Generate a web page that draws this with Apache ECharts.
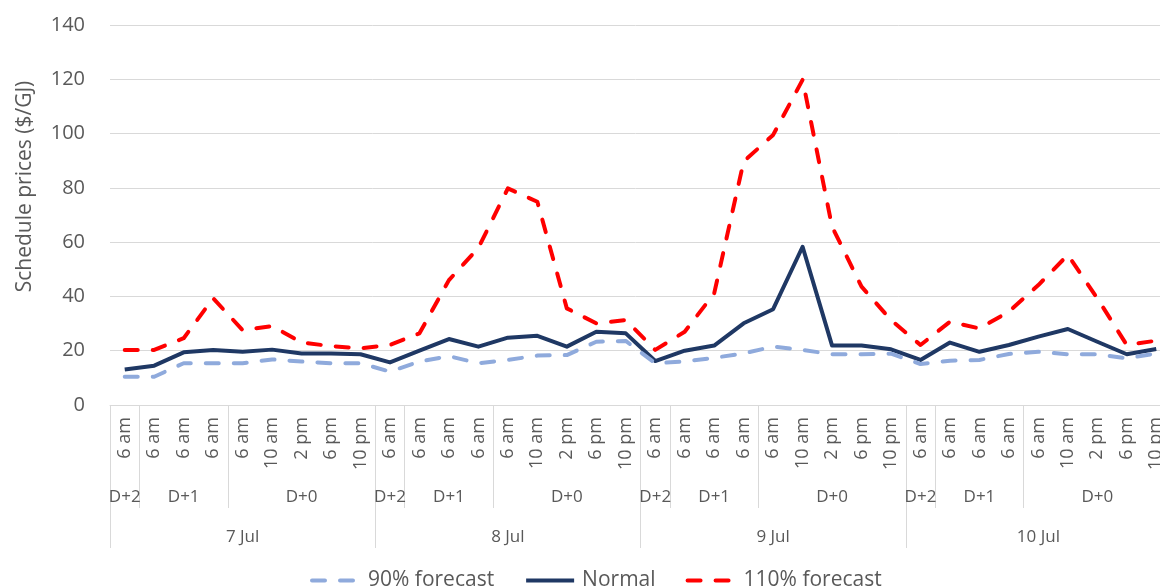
<!DOCTYPE html>
<html>
<head>
<meta charset="utf-8">
<script src="https://cdn.jsdelivr.net/npm/echarts@6/dist/echarts.min.js"></script>
<style>
  html, body { margin: 0; padding: 0; background: #ffffff; overflow: hidden; }
  #chart { width: 1160px; height: 588px; }
</style>
</head>
<body>
<div id="chart"></div>
<script>
// Gas schedule prices by publication time, for four gas days
const dates = ['7 Jul', '8 Jul', '9 Jul', '10 Jul'];
const horizonNames = ['D+2', 'D+1', 'D+0'];
const horizonSizes = [1, 3, 5];
const timeLabels = ['6 am', '6 am', '6 am', '6 am', '6 am', '10 am', '2 pm', '6 pm', '10 pm'];

const forecast90 = [
  10.4, 10.4, 15.4, 15.4, 15.4, 16.8, 16.0, 15.4, 15.4,
  12.3, 16.0, 18.0, 15.4, 16.6, 18.2, 18.4, 23.3, 23.6,
  15.4, 16.0, 17.4, 19.0, 21.5, 20.3, 18.7, 18.7, 18.9,
  15.1, 16.3, 16.6, 18.8, 19.6, 18.7, 18.7, 17.2, 19.0
];
const normal = [
  13.1, 14.5, 19.4, 20.3, 19.6, 20.4, 19.0, 19.0, 18.7,
  15.7, 20.0, 24.3, 21.5, 24.8, 25.5, 21.5, 27.0, 26.4,
  16.2, 20.0, 21.9, 30.1, 35.3, 58.3, 21.9, 21.9, 20.5,
  16.6, 23.0, 19.6, 22.1, 25.2, 28.0, 23.3, 18.7, 20.6
];
const forecast110 = [
  20.3, 20.3, 24.6, 39.3, 27.6, 29.1, 23.0, 21.7, 20.9,
  22.1, 26.4, 46.0, 57.9, 79.8, 74.9, 35.6, 30.1, 31.3,
  20.3, 27.0, 41.1, 89.7, 99.5, 119.8, 65.7, 43.6, 31.3,
  22.1, 30.7, 28.2, 34.4, 44.2, 55.3, 39.3, 22.1, 23.7
];

// Build the three levels of the category axis
const perDay = timeLabels.length;
const timeCats = [];
const horizonCats = [];
const dateCats = [];
const groupStarts = new Set();
dates.forEach(function (d) {
  timeLabels.forEach(function (t) { timeCats.push(t); });
  let start = 0;
  horizonNames.forEach(function (name, g) {
    groupStarts.add(start);
    for (let k = 0; k < horizonSizes[g]; k++) {
      horizonCats.push(k === Math.floor(horizonSizes[g] / 2) ? name : '');
    }
    start += horizonSizes[g];
  });
  for (let k = 0; k < perDay; k++) {
    dateCats.push(k === Math.floor(perDay / 2) ? d : '');
  }
});

const FONT = 'Open Sans';
const TEXT = '#595959';
const GRID = '#d9d9d9';

const chart = echarts.init(document.getElementById('chart'), null, { renderer: 'canvas' });

chart.setOption({
  animation: false,
  textStyle: { fontFamily: FONT },
  // plot area runs slightly past the right edge of the canvas
  grid: { left: 110, width: 1061, top: 25, bottom: 183, containLabel: false, outerBoundsMode: 'none' },
  legend: {
    data: ['90% forecast', 'Normal', '110% forecast'],
    left: 305,
    top: 565,
    itemWidth: 48,
    itemHeight: 14,
    itemGap: 30,
    itemStyle: { opacity: 0 },
    lineStyle: { width: 4 },
    textStyle: { fontFamily: FONT, fontSize: 21, color: TEXT, padding: [0, 0, 0, 3] }
  },
  xAxis: [
    {
      type: 'category',
      data: timeCats,
      boundaryGap: true,
      axisLine: { show: true, lineStyle: { color: GRID, width: 1 } },
      axisTick: {
        show: true,
        length: 103,
        interval: function (idx) { return groupStarts.has(idx % perDay); },
        lineStyle: { color: GRID, width: 1 }
      },
      axisLabel: { interval: 0, rotate: 90, margin: 12, fontSize: 18, color: TEXT, fontFamily: FONT }
    },
    {
      type: 'category',
      data: horizonCats,
      position: 'bottom',
      boundaryGap: true,
      axisLine: { show: false },
      axisTick: { show: false },
      axisLabel: { interval: 0, margin: 84, fontSize: 17, color: TEXT, fontFamily: FONT }
    },
    {
      type: 'category',
      data: dateCats,
      position: 'bottom',
      boundaryGap: true,
      axisLine: { show: false },
      axisTick: {
        show: true,
        length: 143,
        interval: function (idx) { return idx % perDay === 0; },
        lineStyle: { color: GRID, width: 1 }
      },
      axisLabel: { interval: 0, margin: 124, fontSize: 17, color: TEXT, fontFamily: FONT }
    }
  ],
  yAxis: {
    type: 'value',
    min: 0,
    max: 140,
    interval: 20,
    name: 'Schedule prices ($/GJ)',
    nameLocation: 'middle',
    nameGap: 74,
    nameTextStyle: { fontSize: 21, color: TEXT, fontFamily: FONT, padding: [0, 0, 0, 57] },
    axisLine: { show: false },
    axisTick: { show: false },
    axisLabel: { margin: 25, fontSize: 20, color: TEXT, fontFamily: FONT },
    splitLine: { lineStyle: { color: GRID, width: 1 } }
  },
  series: [
    {
      name: '90% forecast',
      type: 'line',
      data: forecast90,
      xAxisIndex: 0,
      symbol: 'none',
      z: 3,
      lineStyle: { color: '#8faadc', width: 4, type: [13, 15], cap: 'round', join: 'round' },
      itemStyle: { color: '#8faadc' }
    },
    {
      name: 'Normal',
      type: 'line',
      data: normal,
      xAxisIndex: 0,
      symbol: 'none',
      z: 2,
      lineStyle: { color: '#1f3864', width: 4, join: 'round' },
      itemStyle: { color: '#1f3864' }
    },
    {
      name: '110% forecast',
      type: 'line',
      data: forecast110,
      xAxisIndex: 0,
      symbol: 'none',
      z: 4,
      lineStyle: { color: '#ff0000', width: 4, type: [13, 15], cap: 'round', join: 'round' },
      itemStyle: { color: '#ff0000' }
    }
  ]
});
</script>
</body>
</html>
